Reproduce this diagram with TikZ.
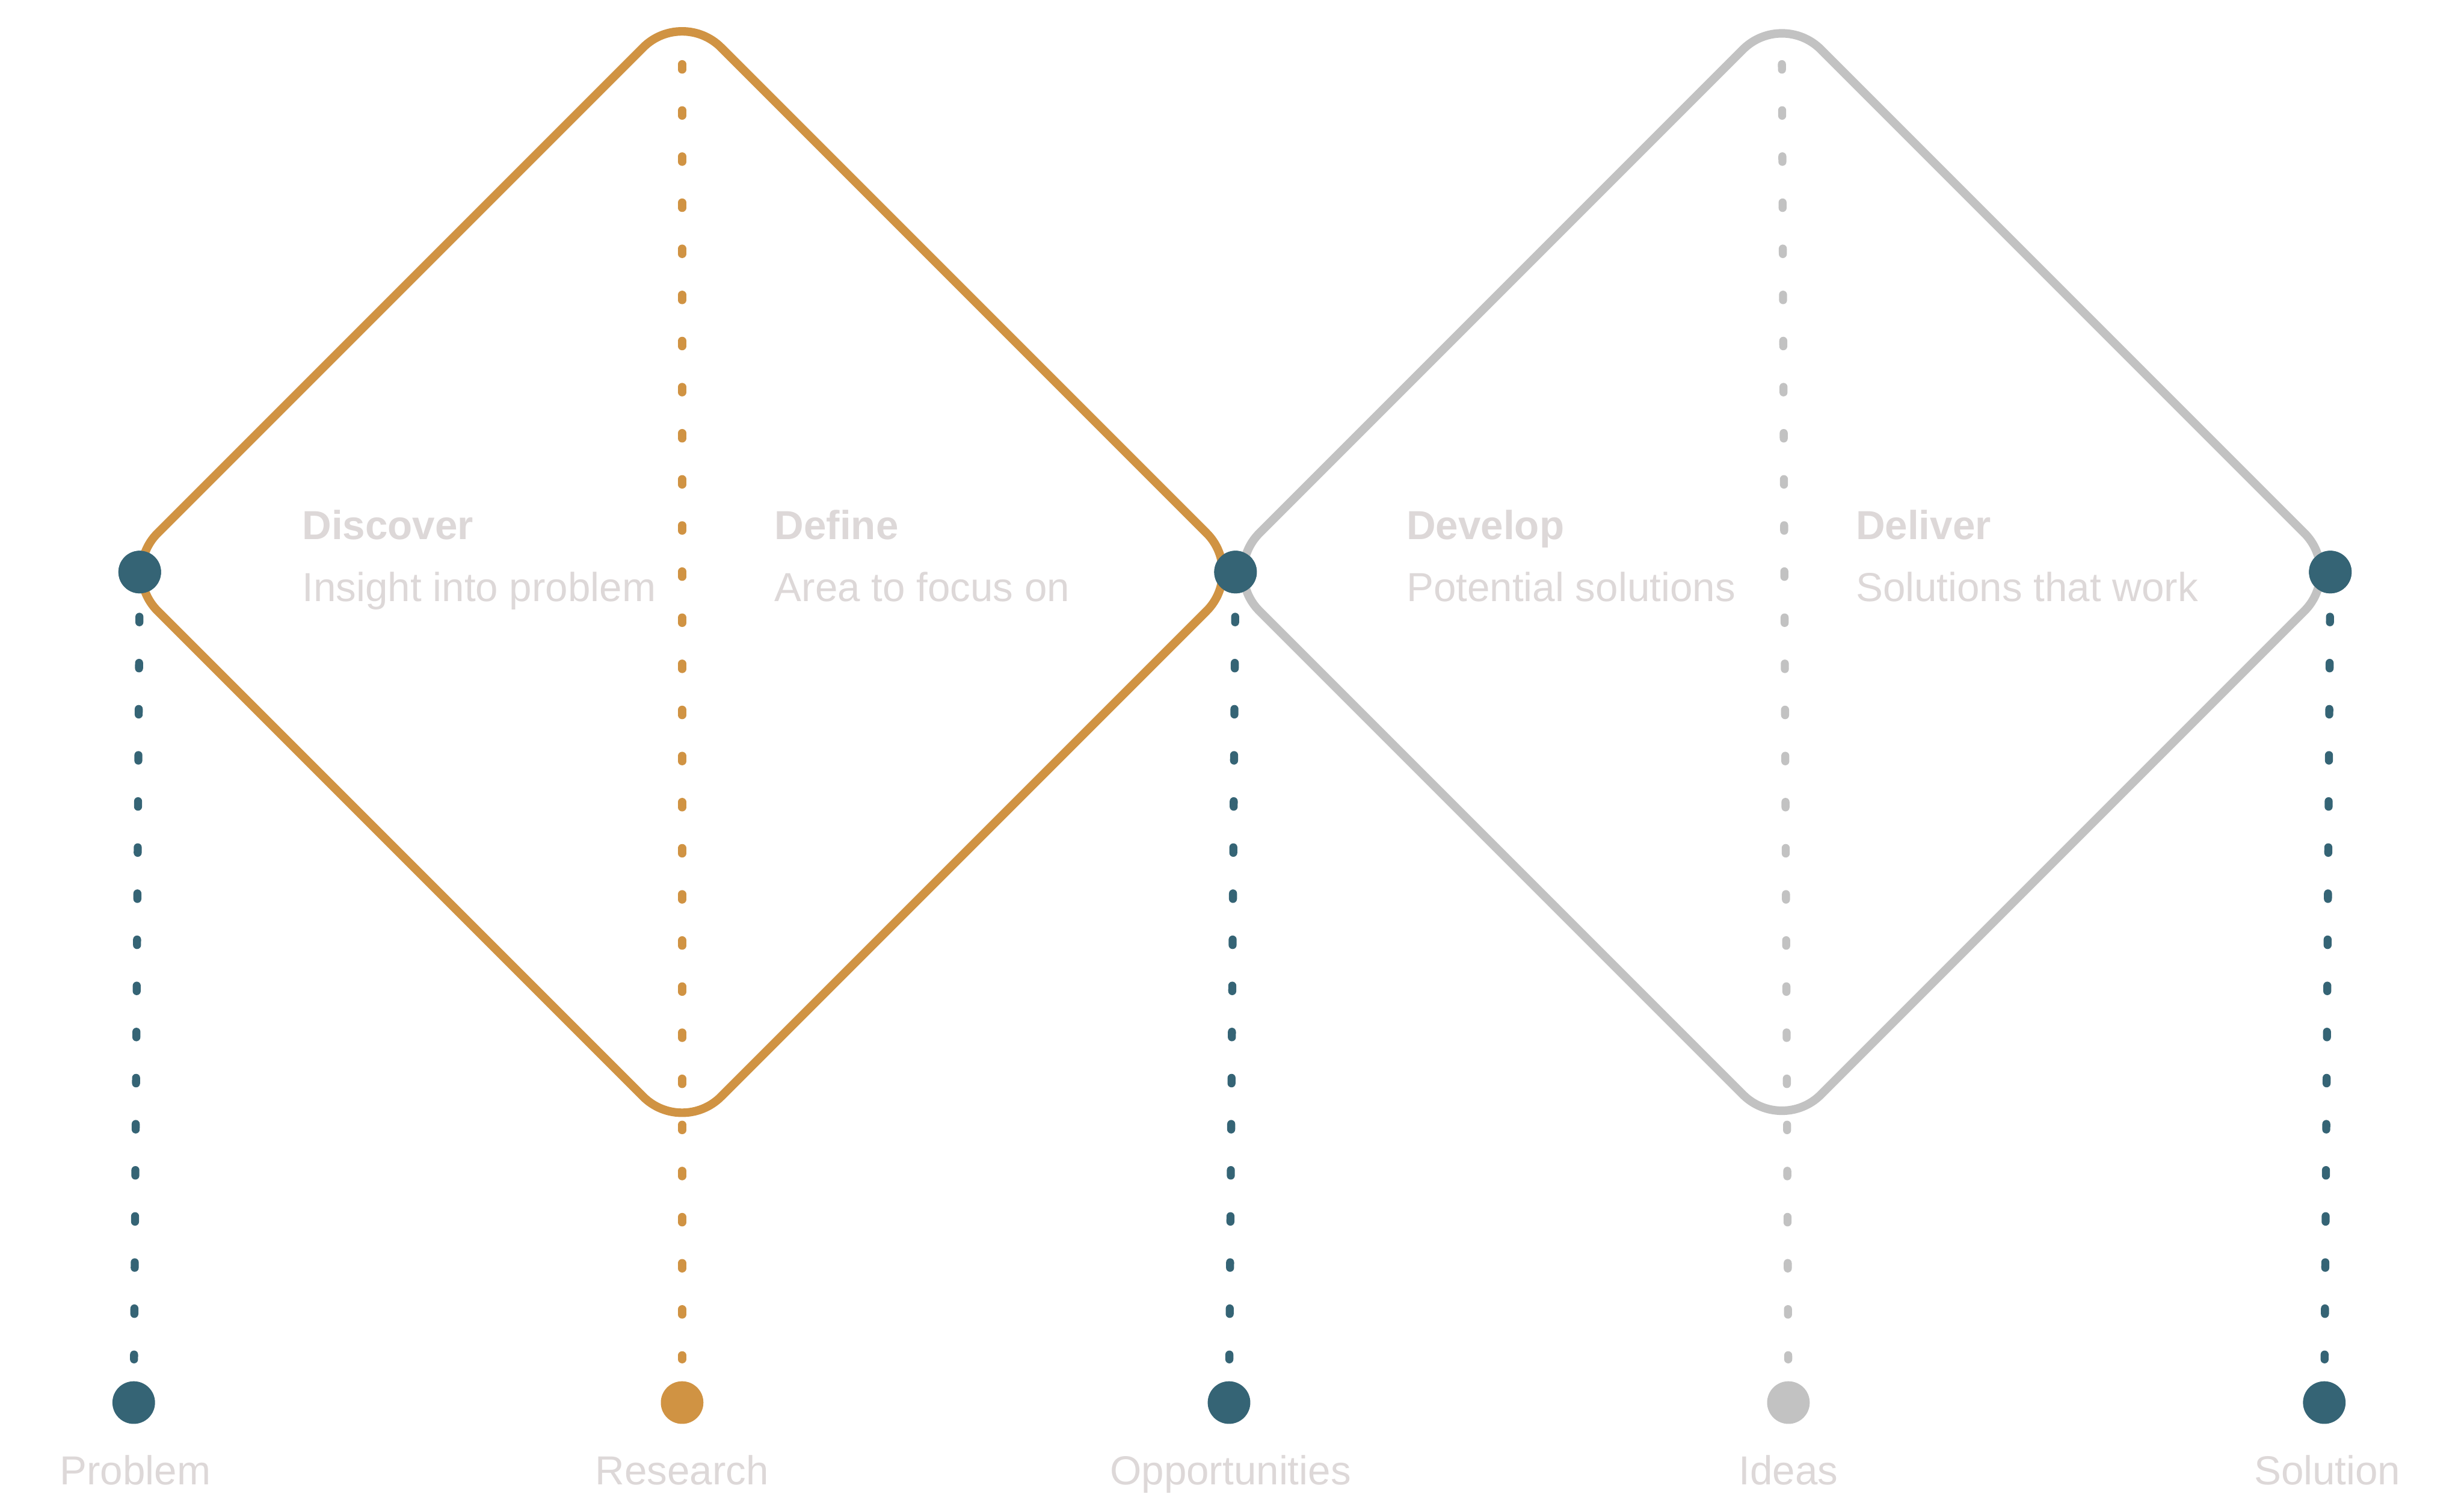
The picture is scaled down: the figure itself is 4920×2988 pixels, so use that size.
\documentclass[tikz,border=0pt]{standalone}
\usepackage{fontspec}
\setmainfont{Liberation Sans}
\definecolor{ochre}{HTML}{D09343}
\definecolor{teal}{HTML}{356475}
\definecolor{lgray}{HTML}{C2C2C2}
\definecolor{txt}{HTML}{DDD8D8}
\begin{document}
\begin{tikzpicture}[x=0.01cm,y=-0.01cm,
  dot/.style={circle,inner sep=0pt,minimum size=0.85cm,draw=none},
  diam/.style={line width=0.17cm,rounded corners=1.1cm},
  dl/.style={line width=0.16cm,line cap=round,dash pattern=on 0.11cm off 0.81cm},
  ttl/.style={anchor=base west,inner sep=0pt,text=txt,font=\fontsize{23}{28}\selectfont\bfseries},
  sub/.style={anchor=base west,inner sep=0pt,text=txt,font=\fontsize{23}{28}\selectfont},
  lbl/.style={anchor=base,inner sep=0pt,text=txt,font=\fontsize{23}{28}\selectfont}]
\useasboundingbox[fill=white] (0,0) rectangle (4920,2988);
% diamond corners
\coordinate (oL) at (237,1142);
\coordinate (oT) at (1362,17);
\coordinate (oR) at (2487,1142);
\coordinate (oB) at (1362,2267);
\coordinate (gL) at (2437,1142);
\coordinate (gT) at (3558,21);
\coordinate (gR) at (4679,1142);
\coordinate (gB) at (3558,2263);
% free ends of the middle dashed lines
\coordinate (rtop) at (1362,128);
\coordinate (itop) at (3558,128);
% dots
\node[dot,fill=teal] (d1) at (279,1142) {};
\node[dot,fill=teal] (d2) at (2467,1142) {};
\node[dot,fill=teal] (d3) at (4653,1142) {};
\node[dot,fill=teal] (b1) at (267,2800) {};
\node[dot,fill=ochre] (b2) at (1362,2800) {};
\node[dot,fill=teal] (b3) at (2454,2800) {};
\node[dot,fill=lgray] (b4) at (3571,2800) {};
\node[dot,fill=teal] (b5) at (4641,2800) {};
% dashed connectors
\draw[dl,teal,shorten <=0.46cm,shorten >=0.43cm] (d1) -- (b1);
\draw[dl,teal,shorten <=0.46cm,shorten >=0.43cm] (d2) -- (b3);
\draw[dl,teal,shorten <=0.46cm,shorten >=0.43cm] (d3) -- (b5);
\draw[dl,ochre,shorten >=0.43cm] (rtop) -- (b2);
\draw[dl,lgray,shorten >=0.43cm] (itop) -- (b4);
% diamonds
\draw[diam,lgray] (gL) -- (gT) -- (gR) -- (gB) -- cycle;
\draw[diam,ochre] (oL) -- (oT) -- (oR) -- (oB) -- cycle;
% redraw top dots above the diamonds
\node[dot,fill=teal] at (d1) {};
\node[dot,fill=teal] at (d2) {};
\node[dot,fill=teal] at (d3) {};
% phase texts
\node[ttl] (t1) at (603,1077) {Discover};
\node[sub] (s1) at (603,1201) {Insight into problem};
\node[ttl] (t2) at (1546,1077) {Define};
\node[sub] (s2) at (1546,1201) {Area to focus on};
\node[ttl] (t3) at (2808,1077) {Develop};
\node[sub] (s3) at (2808,1201) {Potential solutions};
\node[ttl] (t4) at (3705,1077) {Deliver};
\node[sub] (s4) at (3705,1201) {Solutions that work};
% bottom labels
\node[lbl] (l1) at (270,2964) {Problem};
\node[lbl] (l2) at (1362,2964) {Research};
\node[lbl] (l3) at (2457,2964) {Opportunities};
\node[lbl] (l4) at (3571,2964) {Ideas};
\node[lbl] (l5) at (4647,2964) {Solution};
\end{tikzpicture}
\end{document}
